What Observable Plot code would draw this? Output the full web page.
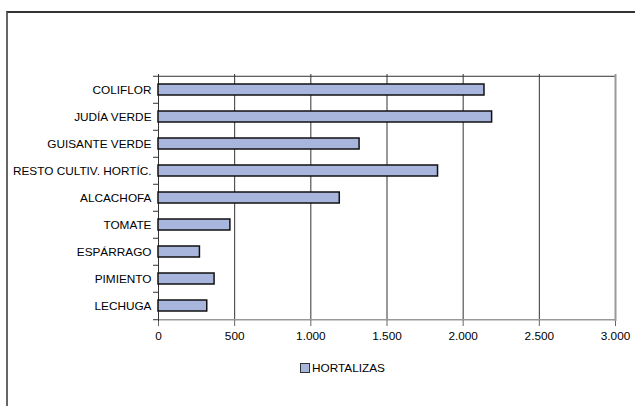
<!DOCTYPE html>
<html><head><meta charset="utf-8">
<script src="https://cdn.jsdelivr.net/npm/d3@7"></script>
<script src="https://cdn.jsdelivr.net/npm/@observablehq/plot@0.6"></script>
<style>
body{margin:0;background:#fff;}
#wrap{position:relative;width:635px;height:406px;overflow:hidden;font-family:"Liberation Sans",Arial,sans-serif;background:#fff;}
#frame{position:absolute;left:6px;top:11px;width:700px;height:500px;border-left:2px solid #666;border-top:2px solid #333;}
#chart{position:absolute;left:0;top:0;}
#legend{position:absolute;left:300px;top:361px;font-size:11.8px;display:flex;align-items:center;color:#000;}
#legend .sw{width:8px;height:8px;background:#a8b6dd;border:1px solid #333;margin-right:2px;}
</style></head><body>
<div id="wrap"><div id="frame"></div><div id="chart"></div><div id="legend"><span class="sw"></span><span id="lt"></span></div></div>
<script>
const categories = ["COLIFLOR","JUDÍA VERDE","GUISANTE VERDE","RESTO CULTIV. HORTÍC.","ALCACHOFA","TOMATE","ESPÁRRAGO","PIMIENTO","LECHUGA"];
const values = [2140, 2190, 1320, 1835, 1190, 472, 272, 368, 320];
const xTicks = [0, 500, 1000, 1500, 2000, 2500, 3000];
const seriesName = "HORTALIZAS";

const data = categories.map((c, i) => ({category: c, value: values[i]}));
const fmt = d3.formatLocale({decimal: ",", thousands: ".", grouping: [3], currency: ["", " €"]}).format(",d");

const W = 635, H = 406, mT = 74, mB = 85, mL = 158, mR = 20;
const step = (H - mT - mB) / categories.length;
const tickLen = 5 * 3000 / (W - mL - mR);

const chart = Plot.plot({
  width: W, height: H,
  marginTop: mT, marginBottom: mB, marginLeft: mL, marginRight: mR,
  style: {background: "transparent", fontFamily: "'Liberation Sans', Arial, sans-serif", fontSize: "11.8px", color: "#000"},
  x: {domain: [0, 3000], label: null},
  y: {domain: categories, padding: 0, label: null},
  marks: [
    Plot.ruleX(xTicks, {stroke: "#333", strokeWidth: 1}),
    Plot.ruleY([categories[0]], {x1: 0, x2: 3000, dy: -step/2, stroke: "#333"}),
    Plot.ruleY([categories[categories.length-1]], {x1: 0, x2: 3000, dy: step/2, stroke: "#999", strokeWidth: 1.5}),
    Plot.ruleX([3000], {stroke: "#999", strokeWidth: 2}),
    Plot.ruleX([0], {stroke: "#333"}),
    Plot.ruleY(categories, {x1: -tickLen, x2: 0, dy: -step/2, stroke: "#333"}),
    Plot.ruleY([categories[categories.length-1]], {x1: -tickLen, x2: 0, dy: step/2, stroke: "#333"}),
    Plot.barX(data, {x: "value", y: "category", fill: "#a8b6dd", stroke: "#111", strokeWidth: 1.5, insetTop: 8, insetBottom: 8}),
    Plot.axisX({ticks: xTicks, tickFormat: fmt, tickSize: 5, tickPadding: 5, stroke: "#666", label: null}),
    Plot.axisY({tickSize: 0, tickPadding: 7, label: null})
  ]
});
document.getElementById("chart").appendChild(chart);
document.getElementById("lt").textContent = seriesName;
</script>
</body></html>
